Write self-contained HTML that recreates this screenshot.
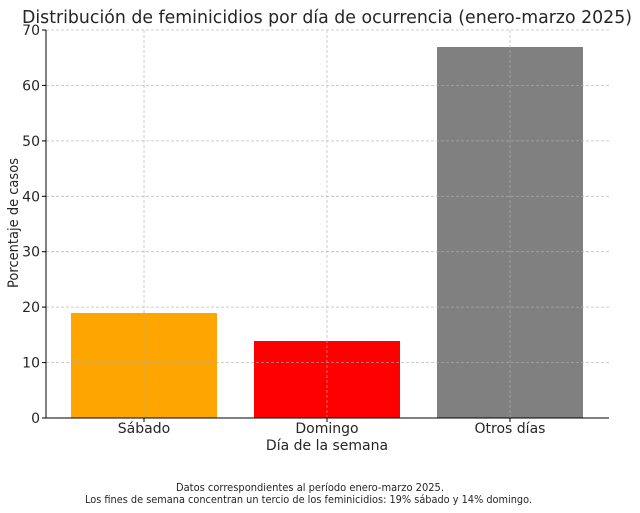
<!DOCTYPE html>
<html><head><meta charset="utf-8"><style>
html,body{margin:0;padding:0;background:#fff}
svg{display:block}
text{font-family:"DejaVu Sans","Liberation Sans",sans-serif;fill:#262626}
</style></head><body>
<svg width="640" height="513" viewBox="0 0 640 513" xmlns="http://www.w3.org/2000/svg">
<text x="22" y="23" font-size="18" textLength="610" lengthAdjust="spacingAndGlyphs">Distribución de feminicidios por día de ocurrencia (enero-marzo 2025)</text>
<rect x="71" y="313" width="146" height="105" fill="#FFA500"/>
<rect x="254" y="341" width="146" height="77" fill="#FF0000"/>
<rect x="437" y="47" width="146" height="371" fill="#808080"/>
<g stroke="#b0b0b0" stroke-width="0.8" stroke-dasharray="3,2" opacity="0.8">
<line x1="46" x2="609" y1="30" y2="30"/>
<line x1="46" x2="609" y1="85.4" y2="85.4"/>
<line x1="46" x2="609" y1="140.9" y2="140.9"/>
<line x1="46" x2="609" y1="196.3" y2="196.3"/>
<line x1="46" x2="609" y1="251.7" y2="251.7"/>
<line x1="46" x2="609" y1="307.1" y2="307.1"/>
<line x1="46" x2="609" y1="362.6" y2="362.6"/>
<line x1="144" x2="144" y1="30" y2="418"/>
<line x1="327" x2="327" y1="30" y2="418"/>
<line x1="510" x2="510" y1="30" y2="418"/>
</g>
<line x1="46" x2="46" y1="30" y2="418.5" stroke="#000" stroke-width="1"/>
<line x1="45.5" x2="609" y1="418" y2="418" stroke="#000" stroke-width="1"/>
<g stroke="#000" stroke-width="1">
<line x1="42" x2="46" y1="30" y2="30"/><line x1="42" x2="46" y1="85.4" y2="85.4"/>
<line x1="42" x2="46" y1="140.9" y2="140.9"/><line x1="42" x2="46" y1="196.3" y2="196.3"/>
<line x1="42" x2="46" y1="251.7" y2="251.7"/><line x1="42" x2="46" y1="307.1" y2="307.1"/>
<line x1="42" x2="46" y1="362.6" y2="362.6"/><line x1="42" x2="46" y1="418" y2="418"/>
<line x1="144" x2="144" y1="418" y2="422"/><line x1="327" x2="327" y1="418" y2="422"/><line x1="510" x2="510" y1="418" y2="422"/>
</g>
<g font-size="14" text-anchor="end">
<text x="40" y="35">70</text><text x="40" y="90.4">60</text><text x="40" y="145.9">50</text>
<text x="40" y="201.3">40</text><text x="40" y="256.7">30</text><text x="40" y="312.1">20</text>
<text x="40" y="367.6">10</text><text x="40" y="423">0</text>
</g>
<g font-size="14" text-anchor="middle">
<text x="144" y="433">Sábado</text><text x="327" y="433">Domingo</text><text x="510" y="433">Otros días</text>
<text x="327" y="450">Día de la semana</text>
</g>
<text transform="translate(18,288) rotate(-90)" font-size="14" textLength="130" lengthAdjust="spacingAndGlyphs">Porcentaje de casos</text>
<g font-size="10.5">
<text x="176" y="491" textLength="268" lengthAdjust="spacingAndGlyphs">Datos correspondientes al período enero-marzo 2025.</text>
<text x="85" y="503" textLength="447" lengthAdjust="spacingAndGlyphs">Los fines de semana concentran un tercio de los feminicidios: 19% sábado y 14% domingo.</text>
</g>
</svg>
</body></html>
